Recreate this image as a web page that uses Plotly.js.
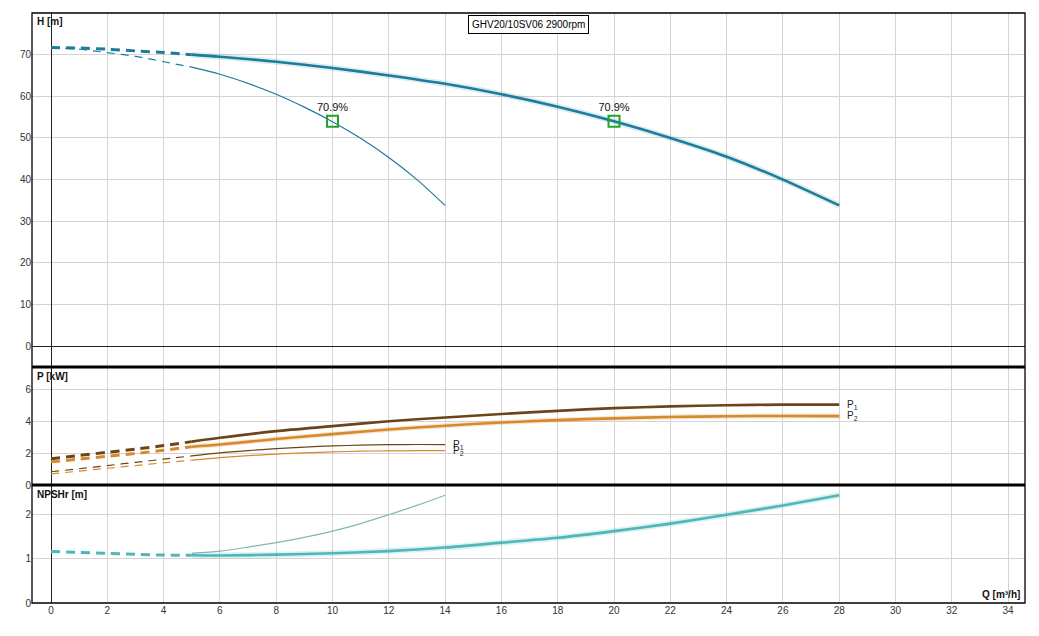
<!DOCTYPE html>
<html>
<head>
<meta charset="utf-8">
<script src="https://cdn.plot.ly/plotly-3.0.1.min.js"></script>
<style>html,body{margin:0;padding:0;background:#fff;}#chart{width:1039px;height:636px;}</style>
</head>
<body>
<div id="chart"></div>
<script>
// ---- data ----
const qThickDash = [0, 1, 2, 3, 4, 5];
const qThick = [5, 6, 8, 10, 12, 14, 16, 18, 20, 22, 24, 26, 28];
const qThinDash = [0, 1, 2, 3, 4, 5];
const qThin = [5, 6, 7, 8, 9, 10, 11, 12, 13, 14];

const hThickDash = [71.7, 71.6, 71.3, 70.9, 70.5, 70.0];
const hThick = [70.0, 69.5, 68.3, 66.8, 65.0, 63.0, 60.5, 57.5, 54.0, 50.0, 45.5, 40.0, 33.8];
const hThinDash = [71.7, 71.3, 70.5, 69.6, 68.3, 67.0];
const hThin = [67.0, 65.3, 63.1, 60.5, 57.4, 53.9, 49.9, 45.3, 40.0, 33.8];

const p1ThickDash = [1.65, 1.85, 2.05, 2.25, 2.47, 2.72];
const p1Thick = [2.72, 2.96, 3.38, 3.69, 4.0, 4.23, 4.45, 4.65, 4.82, 4.93, 5.0, 5.04, 5.04];
const p2ThickDash = [1.45, 1.62, 1.8, 1.98, 2.18, 2.4];
const p2Thick = [2.4, 2.54, 2.88, 3.19, 3.48, 3.72, 3.92, 4.07, 4.18, 4.26, 4.31, 4.33, 4.32];
const p1ThinDash = [0.83, 1.02, 1.22, 1.42, 1.62, 1.83];
const p1Thin = [1.83, 2.02, 2.16, 2.28, 2.38, 2.45, 2.5, 2.53, 2.54, 2.53];
const p2ThinDash = [0.7, 0.87, 1.05, 1.22, 1.39, 1.56];
const p2Thin = [1.56, 1.72, 1.84, 1.94, 2.02, 2.08, 2.12, 2.14, 2.15, 2.15];

const nThickDash = [1.16, 1.14, 1.12, 1.1, 1.08, 1.075];
const nThick = [1.075, 1.07, 1.09, 1.12, 1.17, 1.25, 1.36, 1.47, 1.62, 1.79, 1.99, 2.2, 2.43];
const nThin = [1.12, 1.17, 1.26, 1.36, 1.48, 1.62, 1.79, 1.99, 2.2, 2.43];

const bepQ = [10, 20];
const bepH = [54, 54];
const bepLabel = ['70.9%', '70.9%'];

const xTicks = [0, 2, 4, 6, 8, 10, 12, 14, 16, 18, 20, 22, 24, 26, 28, 30, 32, 34];

// ---- styles ----
const cH = '#1b7d9b';
const cP1 = '#6b4519';
const cP2 = '#d8892c';
const cN = '#4fb7b7';
const cNthin = '#7fb8b6';
const FONT = 'Liberation Sans, Arial, sans-serif';

function line(x, y, ya, color, width, dash, opacity) {
  return {x: x, y: y, yaxis: ya, type: 'scatter', mode: 'lines', hoverinfo: 'skip',
    line: {color: color, width: width, dash: dash || 'solid', shape: 'spline', smoothing: 0.8},
    opacity: opacity == null ? 1 : opacity, showlegend: false};
}

const traces = [
  // H
  line(qThinDash, hThinDash, 'y', cH, 1.2, '8px,6px'),
  line(qThin, hThin, 'y', cH, 1.2),
  line(qThickDash, hThickDash, 'y', cH, 3, '9px,6px'),
  line(qThick, hThick, 'y', cH, 6, null, 0.15),
  line(qThick, hThick, 'y', cH, 2.6),
  // P
  line(qThinDash, p1ThinDash, 'y2', cP1, 1.2, '8px,6px'),
  line(qThin, p1Thin, 'y2', cP1, 1.2),
  line(qThinDash, p2ThinDash, 'y2', cP2, 1.2, '8px,6px'),
  line(qThin, p2Thin, 'y2', cP2, 1.2),
  line(qThickDash, p1ThickDash, 'y2', cP1, 3, '9px,6px'),
  line(qThick, p1Thick, 'y2', cP1, 2.6),
  line(qThickDash, p2ThickDash, 'y2', cP2, 3, '9px,6px'),
  line(qThick, p2Thick, 'y2', cP2, 5, null, 0.2),
  line(qThick, p2Thick, 'y2', cP2, 2.6),
  // NPSH
  line(qThin, nThin, 'y3', cNthin, 1.2),
  line(qThickDash, nThickDash, 'y3', cN, 3, '9px,6px'),
  line(qThick, nThick, 'y3', cN, 6, null, 0.2),
  line(qThick, nThick, 'y3', cN, 2.6),
  // BEP markers
  {x: bepQ, y: bepH, yaxis: 'y', type: 'scatter', mode: 'markers+text', hoverinfo: 'skip',
   text: bepLabel, textposition: 'top center',
   textfont: {family: FONT, size: 11, color: '#111'},
   marker: {symbol: 'square-open', size: 11, color: '#22a32a', line: {width: 2, color: '#22a32a'}},
   showlegend: false}
];

const gridC = '#d4d4d4';
const tickFont = {family: FONT, size: 10, color: '#333'};

const layout = {
  width: 1039, height: 636,
  margin: {l: 32, r: 14, t: 13, b: 33, pad: 0},
  paper_bgcolor: '#fff', plot_bgcolor: '#fff',
  showlegend: false,
  xaxis: {range: [-0.675, 34.6], tickvals: xTicks, ticktext: xTicks.map(String), showgrid: true, gridcolor: gridC,
    gridwidth: 1, zeroline: true, zerolinecolor: '#222', zerolinewidth: 1, anchor: 'y3', ticks: '', tickfont: tickFont,
    showline: false, fixedrange: true},
  yaxis: {domain: [0.4, 1], range: [-5, 80], tickvals: [0, 10, 20, 30, 40, 50, 60, 70], showgrid: true, gridcolor: gridC,
    zeroline: true, zerolinecolor: '#222', zerolinewidth: 1, ticks: '', tickfont: tickFont, showline: false},
  yaxis2: {domain: [0.2, 0.4], range: [0, 7.4], tickvals: [0, 2, 4, 6], showgrid: true, gridcolor: gridC,
    zeroline: false, ticks: '', tickfont: tickFont, showline: false},
  yaxis3: {domain: [0, 0.2], range: [0, 2.66], tickvals: [0, 1, 2], showgrid: true, gridcolor: gridC,
    zeroline: false, ticks: '', tickfont: tickFont, showline: false},
  shapes: [
    {type: 'rect', xref: 'paper', yref: 'paper', x0: 0, x1: 1, y0: 0, y1: 1, line: {color: '#000', width: 1.3}},
    {type: 'line', xref: 'paper', yref: 'paper', x0: 0, x1: 1, y0: 0.4, y1: 0.4, line: {color: '#000', width: 3}},
    {type: 'line', xref: 'paper', yref: 'paper', x0: 0, x1: 1, y0: 0.2, y1: 0.2, line: {color: '#000', width: 3}}
  ],
  annotations: [
    {xref: 'paper', yref: 'paper', x: 0.4995, y: 1, yshift: -2, xanchor: 'center', yanchor: 'top', showarrow: false,
     text: 'GHV20/10SV06 2900rpm', font: {family: FONT, size: 10, color: '#000'},
     bordercolor: '#000', borderwidth: 1, borderpad: 3, bgcolor: '#fff'},
    {xref: 'paper', yref: 'paper', x: 0.003, y: 1, yshift: -1, xanchor: 'left', yanchor: 'top', showarrow: false,
     text: '<b>H [m]</b>', font: {family: FONT, size: 10, color: '#111'}},
    {xref: 'paper', yref: 'paper', x: 0.003, y: 0.4, yshift: -2, xanchor: 'left', yanchor: 'top', showarrow: false,
     text: '<b>P [kW]</b>', font: {family: FONT, size: 10, color: '#111'}},
    {xref: 'paper', yref: 'paper', x: 0.003, y: 0.2, yshift: -2, xanchor: 'left', yanchor: 'top', showarrow: false,
     text: '<b>NPSHr [m]</b>', font: {family: FONT, size: 10, color: '#111'}},
    {xref: 'paper', yref: 'paper', x: 0.997, y: 0, yshift: 1, xanchor: 'right', yanchor: 'bottom', showarrow: false,
     text: '<b>Q [m³/h]</b>', font: {family: FONT, size: 10, color: '#111'}},
    {xref: 'x', yref: 'y2', x: 28.2, y: p1Thick[p1Thick.length - 1], xanchor: 'left', yanchor: 'middle', showarrow: false,
     text: 'P<sub>1</sub>', font: {family: FONT, size: 10, color: '#222'}},
    {xref: 'x', yref: 'y2', x: 28.2, y: p2Thick[p2Thick.length - 1], xanchor: 'left', yanchor: 'middle', showarrow: false,
     text: 'P<sub>2</sub>', font: {family: FONT, size: 10, color: '#222'}},
    {xref: 'x', yref: 'y2', x: 14.2, y: p1Thin[p1Thin.length - 1], xanchor: 'left', yanchor: 'middle', showarrow: false,
     text: 'P<sub>1</sub>', font: {family: FONT, size: 10, color: '#222'}},
    {xref: 'x', yref: 'y2', x: 14.2, y: p2Thin[p2Thin.length - 1], xanchor: 'left', yanchor: 'middle', showarrow: false,
     text: 'P<sub>2</sub>', font: {family: FONT, size: 10, color: '#222'}}
  ]
};

Plotly.newPlot('chart', traces, layout, {staticPlot: true, displayModeBar: false});
</script>
</body>
</html>
